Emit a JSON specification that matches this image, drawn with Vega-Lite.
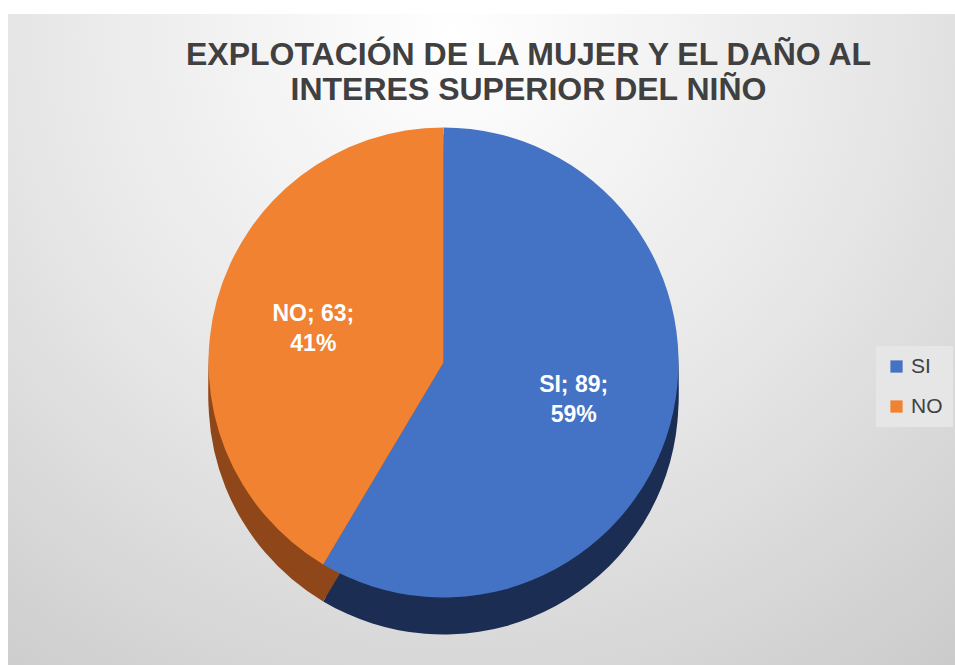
{
  "$schema": "https://vega.github.io/schema/vega-lite/v6.json",
  "width": 955,
  "height": 665,
  "autosize": {"type": "fit", "contains": "padding"},
  "padding": {"top": 14, "left": 8, "right": 0, "bottom": 0},
  "background": "#ffffff",
  "title": {
    "text": ["EXPLOTACIÓN DE LA MUJER Y EL DAÑO AL", "INTERES SUPERIOR DEL NIÑO"],
    "anchor": "middle",
    "frame": "group",
    "offset": -93,
    "dx": 47,
    "font": "Liberation Sans",
    "fontSize": 32,
    "fontWeight": "bold",
    "lineHeight": 35,
    "color": "#404040"
  },
  "data": {"values": [
    {"cat": "SI", "value": 89, "label": "SI; 89;\n59%"},
    {"cat": "NO", "value": 63, "label": "NO; 63;\n41%"}
  ]},
  "config": {
    "view": {"stroke": null},
    "legend": {
      "orient": "none",
      "legendX": 868,
      "legendY": 332,
      "title": null,
      "symbolType": "square",
      "symbolSize": 150,
      "symbolStrokeWidth": 0,
      "labelFontSize": 21,
      "labelFont": "Liberation Sans",
      "labelColor": "#404040",
      "rowPadding": 18,
      "fillColor": "#e6e6e6",
      "padding": 10,
      "labelOffset": 4
    }
  },
  "layer": [
    {
      "data": {"values": [{}]},
      "mark": {
        "type": "rect",
        "fill": {
          "gradient": "radial",
          "x1": 0.47, "y1": 0.18, "r1": 0,
          "x2": 0.47, "y2": 0.18, "r2": 0.85,
          "stops": [
            {"offset": 0, "color": "#ffffff"},
            {"offset": 0.5, "color": "#e8e8e8"},
            {"offset": 1, "color": "#cbcbcb"}
          ]
        }
      },
      "encoding": {}
    },
    {
      "mark": {"type": "arc", "outerRadius": 235, "xOffset": -38, "yOffset": 30},
      "encoding": {
        "theta": {"field": "value", "type": "quantitative", "stack": true},
        "order": {"field": "value", "sort": "descending"},
        "fill": {"condition": {"test": "datum.cat === 'SI'", "value": "#1f3560"}, "value": "#a0511e"}
      }
    },
    {
      "mark": {"type": "arc", "outerRadius": 235, "xOffset": -38, "yOffset": 38},
      "encoding": {
        "theta": {"field": "value", "type": "quantitative", "stack": true},
        "order": {"field": "value", "sort": "descending"},
        "fill": {"condition": {"test": "datum.cat === 'SI'", "value": "#1f3560"}, "value": "#a0511e"}
      }
    },
    {
      "mark": {"type": "arc", "outerRadius": 235, "xOffset": -38, "yOffset": 46},
      "encoding": {
        "theta": {"field": "value", "type": "quantitative", "stack": true},
        "order": {"field": "value", "sort": "descending"},
        "fill": {"condition": {"test": "datum.cat === 'SI'", "value": "#1f3560"}, "value": "#a0511e"}
      }
    },
    {
      "mark": {"type": "arc", "outerRadius": 235, "xOffset": -38, "yOffset": 54},
      "encoding": {
        "theta": {"field": "value", "type": "quantitative", "stack": true},
        "order": {"field": "value", "sort": "descending"},
        "fill": {"condition": {"test": "datum.cat === 'SI'", "value": "#1f3560"}, "value": "#a0511e"}
      }
    },
    {
      "mark": {"type": "arc", "outerRadius": 235, "xOffset": -38, "yOffset": 60},
      "encoding": {
        "theta": {"field": "value", "type": "quantitative", "stack": true},
        "order": {"field": "value", "sort": "descending"},
        "fill": {"condition": {"test": "datum.cat === 'SI'", "value": "#1b2d52"}, "value": "#8f4719"}
      }
    },
    {
      "mark": {"type": "arc", "outerRadius": 235, "xOffset": -38, "yOffset": 23},
      "encoding": {
        "theta": {"field": "value", "type": "quantitative", "stack": true},
        "order": {"field": "value", "sort": "descending"},
        "color": {
          "field": "cat", "type": "nominal",
          "scale": {"domain": ["SI", "NO"], "range": ["#4472C4", "#F08232"]},
          "legend": {}
        }
      }
    },
    {
      "mark": {"type": "text", "radius": 135, "xOffset": -38, "yOffset": 10, "lineBreak": "\n",
               "font": "Liberation Sans", "fontSize": 23, "fontWeight": "bold", "fill": "#ffffff", "lineHeight": 30},
      "encoding": {
        "theta": {"field": "value", "type": "quantitative", "stack": true},
        "order": {"field": "value", "sort": "descending"},
        "text": {"field": "label"}
      }
    }
  ]
}
